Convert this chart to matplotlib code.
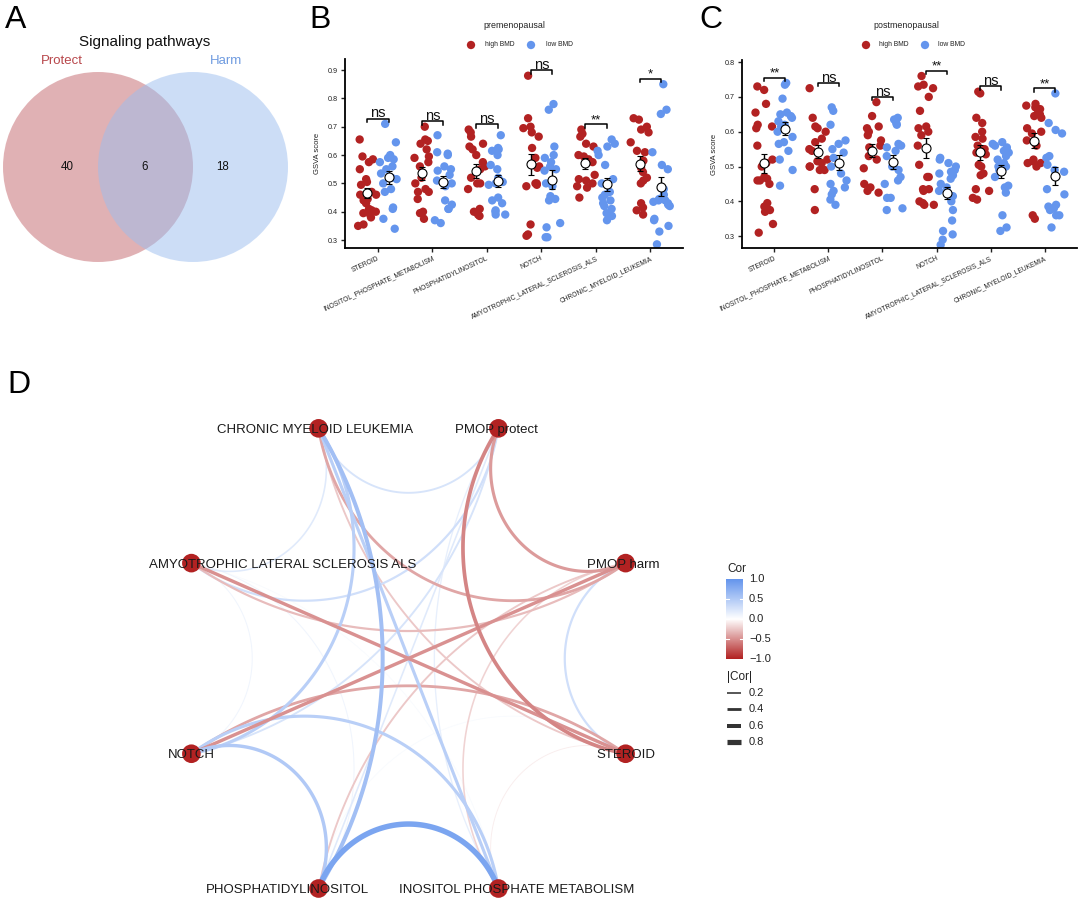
import numpy as np
import matplotlib
matplotlib.use("Agg")
import matplotlib.pyplot as plt
from matplotlib.colors import LinearSegmentedColormap, Normalize
from matplotlib.patches import Circle

plt.rcParams['font.family'] = ['Liberation Sans', 'DejaVu Sans']

# ---------------- data ----------------
venn_labels = ["Protect", "Harm"]
venn_counts = [40, 6, 18]          # protect only, both, harm only

pathways = ["STEROID", "INOSITOL_PHOSPHATE_METABOLISM", "PHOSPHATIDYLINOSITOL",
            "NOTCH", "AMYOTROPHIC_LATERAL_SCLEROSIS_ALS", "CHRONIC_MYELOID_LEUKEMIA"]

pre_high = [
    [0.655, 0.595, 0.585, 0.575, 0.55, 0.515, 0.505, 0.495, 0.47, 0.46, 0.45, 0.445,
     0.43, 0.41, 0.405, 0.40, 0.395, 0.39, 0.38, 0.355, 0.35, 0.46, 0.44],
    [0.70, 0.655, 0.65, 0.64, 0.62, 0.595, 0.59, 0.575, 0.56, 0.52, 0.50, 0.48,
     0.47, 0.47, 0.445, 0.40, 0.395, 0.375],
    [0.69, 0.68, 0.665, 0.64, 0.63, 0.62, 0.60, 0.575, 0.56, 0.55, 0.52, 0.50,
     0.50, 0.48, 0.41, 0.40, 0.39, 0.385],
    [0.88, 0.73, 0.70, 0.695, 0.68, 0.665, 0.625, 0.59, 0.56, 0.555, 0.50, 0.50,
     0.495, 0.49, 0.355, 0.32, 0.315],
    [0.69, 0.675, 0.665, 0.64, 0.63, 0.60, 0.595, 0.585, 0.575, 0.53, 0.515, 0.51,
     0.50, 0.49, 0.485, 0.45],
    [0.73, 0.725, 0.70, 0.69, 0.68, 0.645, 0.615, 0.61, 0.58, 0.555, 0.54, 0.52,
     0.51, 0.50, 0.43, 0.415, 0.405, 0.39],
]
pre_low = [
    [0.71, 0.645, 0.60, 0.59, 0.585, 0.575, 0.56, 0.55, 0.535, 0.52, 0.515, 0.50,
     0.48, 0.47, 0.415, 0.41, 0.375, 0.34],
    [0.67, 0.61, 0.605, 0.60, 0.56, 0.55, 0.545, 0.53, 0.51, 0.50, 0.49, 0.44,
     0.425, 0.41, 0.41, 0.37, 0.36],
    [0.67, 0.625, 0.62, 0.615, 0.60, 0.565, 0.55, 0.52, 0.505, 0.50, 0.495, 0.45,
     0.44, 0.43, 0.405, 0.40, 0.39, 0.39],
    [0.78, 0.76, 0.63, 0.60, 0.59, 0.575, 0.56, 0.55, 0.545, 0.50, 0.49, 0.455,
     0.445, 0.44, 0.345, 0.36, 0.31, 0.31],
    [0.655, 0.64, 0.63, 0.615, 0.60, 0.565, 0.515, 0.50, 0.47, 0.46, 0.45, 0.44,
     0.43, 0.42, 0.41, 0.395, 0.385, 0.37],
    [0.85, 0.76, 0.745, 0.61, 0.565, 0.55, 0.48, 0.46, 0.445, 0.44, 0.44, 0.435,
     0.43, 0.425, 0.42, 0.375, 0.37, 0.35, 0.33, 0.285],
]
pre_sig = ["ns", "ns", "ns", "ns", "**", "*"]

post_high = [
    [0.73, 0.72, 0.68, 0.655, 0.62, 0.615, 0.61, 0.56, 0.52, 0.51, 0.50, 0.47,
     0.465, 0.46, 0.46, 0.45, 0.395, 0.385, 0.375, 0.37, 0.335, 0.31],
    [0.725, 0.64, 0.615, 0.61, 0.60, 0.58, 0.57, 0.55, 0.545, 0.52, 0.515, 0.51,
     0.50, 0.50, 0.49, 0.49, 0.435, 0.375],
    [0.685, 0.645, 0.615, 0.61, 0.60, 0.59, 0.575, 0.56, 0.555, 0.55, 0.53, 0.52,
     0.495, 0.45, 0.44, 0.43, 0.425],
    [0.76, 0.735, 0.73, 0.725, 0.70, 0.66, 0.615, 0.61, 0.60, 0.59, 0.56, 0.505,
     0.47, 0.47, 0.435, 0.435, 0.43, 0.40, 0.395, 0.39, 0.39],
    [0.715, 0.71, 0.64, 0.625, 0.60, 0.585, 0.58, 0.56, 0.55, 0.54, 0.535, 0.505,
     0.50, 0.48, 0.475, 0.435, 0.43, 0.41, 0.405],
    [0.68, 0.675, 0.67, 0.665, 0.655, 0.65, 0.645, 0.64, 0.61, 0.60, 0.595, 0.575,
     0.56, 0.52, 0.515, 0.51, 0.51, 0.50, 0.36, 0.35],
]
post_low = [
    [0.74, 0.735, 0.695, 0.655, 0.65, 0.645, 0.64, 0.63, 0.62, 0.615, 0.60, 0.585,
     0.57, 0.565, 0.545, 0.52, 0.49, 0.445],
    [0.67, 0.66, 0.62, 0.575, 0.565, 0.55, 0.54, 0.525, 0.50, 0.48, 0.46, 0.45,
     0.44, 0.43, 0.42, 0.405, 0.39],
    [0.64, 0.635, 0.625, 0.62, 0.565, 0.56, 0.555, 0.545, 0.53, 0.50, 0.49, 0.47,
     0.46, 0.45, 0.41, 0.41, 0.38, 0.375],
    [0.525, 0.52, 0.51, 0.50, 0.49, 0.485, 0.48, 0.475, 0.465, 0.45, 0.44, 0.43,
     0.415, 0.40, 0.375, 0.345, 0.315, 0.305, 0.29, 0.275],
    [0.57, 0.565, 0.56, 0.555, 0.55, 0.545, 0.54, 0.53, 0.52, 0.51, 0.50, 0.50,
     0.49, 0.47, 0.445, 0.44, 0.425, 0.36, 0.325, 0.315],
    [0.71, 0.625, 0.605, 0.595, 0.53, 0.525, 0.505, 0.49, 0.485, 0.435, 0.42, 0.39,
     0.385, 0.38, 0.375, 0.36, 0.36, 0.325],
]
post_sig = ["**", "ns", "ns", "**", "ns", "**"]

net_nodes = ["PMOP harm", "PMOP protect", "CHRONIC MYELOID LEUKEMIA",
             "AMYOTROPHIC LATERAL SCLEROSIS ALS", "NOTCH", "PHOSPHATIDYLINOSITOL",
             "INOSITOL PHOSPHATE METABOLISM", "STEROID"]
edge_from = [0, 0, 0, 0, 0, 0, 0,
             1, 1, 1, 1, 1, 1,
             2, 2, 2, 2, 2,
             3, 3, 3, 3,
             4, 4, 4,
             5, 5,
             6]
edge_to = [1, 2, 3, 4, 5, 6, 7,
           2, 3, 4, 5, 6, 7,
           3, 4, 5, 6, 7,
           4, 5, 6, 7,
           5, 6, 7,
           6, 7,
           7]
edge_cor = [-0.45, -0.40, -0.30, -0.50, -0.25, -0.20, 0.30,
            0.25, 0.30, 0.25, 0.20, 0.15, -0.55,
            0.20, 0.45, 0.60, 0.45, -0.25,
            0.10, 0.10, 0.05, -0.50,
            0.50, 0.45, -0.40,
            0.85, 0.05,
            -0.08]
cor_legend = [0.2, 0.4, 0.6, 0.8]

# ---------------- figure ----------------
W, H = 1080, 899
fig = plt.figure(figsize=(W / 100, H / 100), dpi=100)
RED = '#B22222'
BLUE = '#6495ED'
TXT = '#222222'


def px_axes(left, top, width, height, **kw):
    return fig.add_axes([left / W, 1 - (top + height) / H, width / W, height / H], **kw)


over = px_axes(0, 0, W, H)
over.set_xlim(0, W)
over.set_ylim(H, 0)
over.axis('off')
over.patch.set_alpha(0)

# panel letters
for lab, x, y in [("A", 5, 5), ("B", 309, 5), ("C", 699, 5), ("D", 7, 370)]:
    over.text(x, y, lab, fontsize=23, ha='left', va='top', color='black')

# ---------------- panel A: Venn ----------------
over.add_patch(Circle((98, 167), 95, fc=(195 / 255, 101 / 255, 107 / 255), alpha=0.5, ec='none'))
over.add_patch(Circle((193, 167), 95, fc=(155 / 255, 189 / 255, 239 / 255), alpha=0.5, ec='none'))
over.text(145, 42, "Signaling pathways", fontsize=11, ha='center', va='center', color='#111111')
over.text(62, 61, venn_labels[0], fontsize=9.5, ha='center', va='center', color='#B8474B')
over.text(226, 61, venn_labels[1], fontsize=9.5, ha='center', va='center', color='#6F9BE0')
for x, c in zip([67, 145, 223], venn_counts):
    over.text(x, 167, str(c), fontsize=8.3, ha='center', va='center', color='#111111')


# ---------------- panels B / C ----------------
def gsva_panel(ax, highs, lows, sigs, ylim, yticks, seed):
    rng = np.random.default_rng(seed)
    for i, (r, b) in enumerate(zip(highs, lows)):
        centers = []
        for vals, off, col in ((r, -0.19, RED), (b, 0.20, BLUE)):
            vals = np.asarray(vals)
            jit = rng.uniform(-0.17, 0.17, len(vals))
            ax.scatter(i + off + jit, vals, s=36, color=col, edgecolor='none', zorder=2)
            m = vals.mean()
            se = vals.std(ddof=1) / np.sqrt(len(vals))
            ax.errorbar(i + off, m, yerr=se, fmt='o', mfc='white', mec='black', mew=0.8,
                        ms=6.5, ecolor='black', elinewidth=1, capsize=2.5, capthick=1, zorder=4)
            centers.append(i + off)
        yr = ylim[1] - ylim[0]
        top = max(max(r), max(b)) + 0.028 * yr
        tick = 0.018 * yr
        ax.plot([centers[0], centers[0], centers[1], centers[1]],
                [top - tick, top, top, top - tick], color='black', lw=1.1, zorder=3)
        ax.text((centers[0] + centers[1]) / 2, top + 0.006 * yr, sigs[i], ha='center',
                va='baseline', fontsize=10.5 if sigs[i] == 'ns' else 9.5, color='#111111')
    ax.set_xlim(-0.6, 5.6)
    ax.set_ylim(*ylim)
    ax.set_yticks(yticks)
    ax.set_yticklabels([f"{t:.1f}" for t in yticks])
    ax.set_xticks(range(len(pathways)))
    ax.set_xticklabels(pathways, rotation=25, ha='right', rotation_mode='anchor', fontsize=4.8)
    ax.tick_params(axis='y', labelsize=5.2, length=3, width=1, pad=2, colors=TXT)
    ax.tick_params(axis='x', length=3, width=1, pad=2, colors=TXT)
    for s in ('top', 'right'):
        ax.spines[s].set_visible(False)
    for s in ('left', 'bottom'):
        ax.spines[s].set_linewidth(1.3)
    ax.set_ylabel("GSVA score", fontsize=5.5, labelpad=5, color=TXT)
    ax.patch.set_alpha(0)


axB = px_axes(345, 59, 338, 189)
gsva_panel(axB, pre_high, pre_low, pre_sig, (0.272, 0.939), np.arange(0.3, 0.95, 0.1), 3)
axC = px_axes(742, 60, 335, 188)
gsva_panel(axC, post_high, post_low, post_sig, (0.266, 0.806), np.arange(0.3, 0.85, 0.1), 11)

# legends for B / C
for title, tx, rx, ltx, bx, lbx in [("premenopausal", 514, 471, 485, 531, 546),
                                     ("postmenopausal", 906, 866, 879, 925, 938)]:
    over.text(tx, 25, title, fontsize=6.4, ha='center', va='center', color=TXT)
    over.scatter([rx], [45], s=36, color=RED, edgecolor='none')
    over.scatter([bx], [45], s=36, color=BLUE, edgecolor='none')
    over.text(ltx, 45, "high BMD", fontsize=4.9, ha='left', va='center', color=TXT)
    over.text(lbx, 45, "low BMD", fontsize=4.9, ha='left', va='center', color=TXT)

# ---------------- panel D: correlation network ----------------
cmap = LinearSegmentedColormap.from_list("cor", [RED, '#FFFFFF', BLUE])
norm = Normalize(-1, 1)

axN = px_axes(103, 380, 611, 519)
axN.set_xlim(-1.3, 1.3)
axN.set_ylim(-0.966, 1.118)
axN.axis('off')
axN.patch.set_alpha(0)

n = len(net_nodes)
angles = np.deg2rad(22.5 + 45 * np.arange(n))
node_pos = np.exp(1j * angles)
mid_radius = {1: 0.665, 2: 0.32, 3: 0.11, 4: 0.0}


def arc_points(i, j, npts=120):
    steps = (j - i) % n
    if steps > n // 2:
        i, j = j, i
        steps = n - steps
    if steps == n // 2:
        p = np.linspace(node_pos[i], node_pos[j], npts)
        return p.real, p.imag
    alpha = steps * np.pi / n
    phi = angles[i] + alpha
    u = np.exp(1j * phi)
    rm = mid_radius[steps]
    c = (1 - rm ** 2) / (2 * (np.cos(alpha) - rm))
    R = c - rm
    gam = np.arctan2(np.sin(alpha), c - np.cos(alpha))
    s = np.linspace(-1, 1, npts)
    p = c * u + R * (-u) * np.exp(1j * s * gam)
    return p.real, p.imag


def edge_lw(v):
    return 0.3 + 4.3 * abs(v)


order = np.argsort(np.abs(edge_cor))
for k in order:
    xs, ys = arc_points(edge_from[k], edge_to[k])
    cv = edge_cor[k]
    axN.plot(xs, ys, color=cmap(norm(cv)), lw=edge_lw(cv),
             solid_capstyle='round', zorder=1)

axN.scatter(node_pos.real, node_pos.imag, s=180, color=RED, edgecolor='none', zorder=3)
label_dx_px = [-2, -1.5, -3.5, 91, 0, -31.5, 18, 0]
for k in range(n):
    axN.text(node_pos[k].real + label_dx_px[k] / 235, node_pos[k].imag - 4.5 / 249,
             net_nodes[k], ha='center', va='baseline', fontsize=9.5, color='#1a1a1a',
             zorder=4, clip_on=False)

# colour bar legend
axCB = px_axes(726, 579, 17, 80)
grad = np.linspace(1, -1, 200).reshape(-1, 1)
axCB.imshow(grad, cmap=cmap, norm=norm, aspect='auto', extent=[0, 1, -1, 1])
axCB.set_xlim(0, 1)
axCB.set_ylim(-1, 1)
for v in (-0.5, 0, 0.5):
    axCB.plot([0, 0.2], [v, v], color='white', lw=0.8)
    axCB.plot([0.8, 1], [v, v], color='white', lw=0.8)
axCB.axis('off')
over.text(727, 569, "Cor", fontsize=8.5, ha='left', va='center', color=TXT)
for v in (1.0, 0.5, 0.0, -0.5, -1.0):
    ypx = 579 + (1 - v) / 2 * 80
    lab = f"{v:.1f}".replace('-', '\u2212')
    over.text(749, ypx, lab, fontsize=8, ha='left', va='center', color=TXT)
over.text(727, 677, "|Cor|", fontsize=8.5, ha='left', va='center', color=TXT)
for k, v in enumerate(cor_legend):
    ypx = 693 + k * 16.3
    over.plot([727, 741], [ypx, ypx], color='#333333', lw=edge_lw(v), solid_capstyle='butt')
    over.text(749, ypx, f"{v:.1f}", fontsize=8, ha='left', va='center', color=TXT)

fig.savefig("out.png", dpi=100)
